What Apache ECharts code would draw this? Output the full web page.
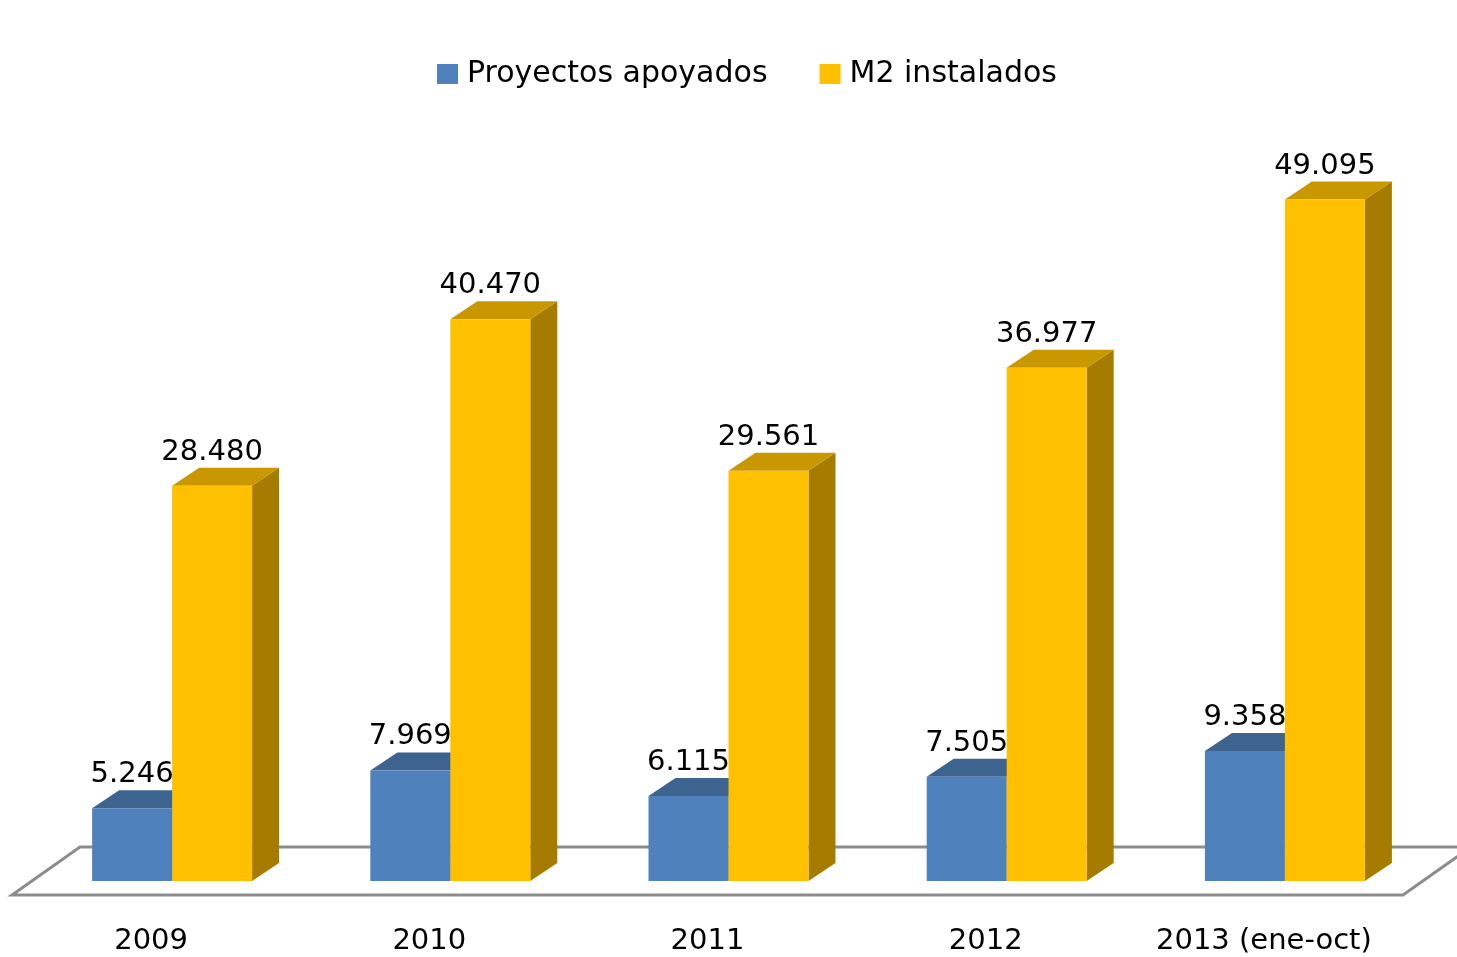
<!DOCTYPE html>
<html>
<head>
<meta charset="utf-8">
<script src="https://cdn.jsdelivr.net/npm/echarts@6/dist/echarts.min.js"></script>
<style>html,body{margin:0;padding:0;background:#fff}#c{width:1457px;height:957px}</style>
</head>
<body>
<div id="c"></div>
<script>
const categories = ['2009', '2010', '2011', '2012', '2013 (ene-oct)'];
const seriesNames = ['Proyectos apoyados', 'M2 instalados'];
const proyectos = [5246, 7969, 6115, 7505, 9358];
const m2 = [28480, 40470, 29561, 36977, 49095];

const FONT = '"DejaVu Sans"';
const FS = 29;
const DX = 27, DY = -18;
const palettes = [
  { front: '#4F81BD', top: '#3D638F', side: '#345580' },
  { front: '#FFC000', top: '#C99700', side: '#A57C00' }
];

function fmt(v) {
  return String(v).replace(/\B(?=(\d{3})+(?!\d))/g, '.');
}

function barRenderer(sIdx) {
  return function (params, api) {
    const ci = api.value(0);
    const v = api.value(1);
    const top = api.coord([ci, v]);
    const base = api.coord([ci, 0]);
    const band = api.size([1, 0])[0];
    const w = band * 0.2875;
    const x0 = sIdx === 0 ? top[0] - w : top[0];
    const x1 = x0 + w;
    const yT = top[1], yB = base[1];
    const p = palettes[sIdx];
    return {
      type: 'group',
      children: [
        { type: 'polygon', shape: { points: [[x1, yT], [x1 + DX, yT + DY], [x1 + DX, yB + DY], [x1, yB]] }, style: { fill: p.side } },
        { type: 'polygon', shape: { points: [[x0, yT], [x0 + DX, yT + DY], [x1 + DX, yT + DY], [x1, yT]] }, style: { fill: p.top } },
        { type: 'rect', shape: { x: x0, y: yT, width: w, height: yB - yT }, style: { fill: p.front } },
        { type: 'text', z2: 100, style: { text: fmt(v), x: (x0 + x1) / 2, y: yT + DY - 1, fill: '#000', font: FS + 'px ' + FONT, align: 'center', verticalAlign: 'bottom', textAlign: 'center', textVerticalAlign: 'bottom' } }
      ]
    };
  };
}

const chart = echarts.init(document.getElementById('c'), null, { renderer: 'canvas' });
chart.setOption({
  animation: false,
  backgroundColor: '#fff',
  textStyle: { fontFamily: FONT },
  legend: {
    data: seriesNames,
    top: 54,
    left: 432,
    icon: 'rect',
    itemWidth: 21,
    itemHeight: 20,
    itemGap: 52,
    textStyle: { fontSize: 30, color: '#000', fontFamily: FONT, padding: [0, 0, 0, 4] }
  },
  grid: { left: 33, right: 33, top: 187, bottom: 76 },
  xAxis: {
    type: 'category',
    data: categories,
    axisLine: { show: false },
    axisTick: { show: false },
    axisLabel: {
      margin: 46,
      interval: 0,
      formatter: function (v) { return '{a|' + v + '}'; },
      rich: { a: { fontSize: FS, fontFamily: FONT, color: '#000', padding: [0, 42, 0, 0] } }
    }
  },
  yAxis: { type: 'value', min: 0, max: 50000, show: false, splitLine: { show: false } },
  series: [
    {
      type: 'custom', name: 'floor', silent: true, z: 1,
      data: [[0, 0]],
      encode: { x: 0, y: 1 },
      renderItem: function (params, api) {
        const cs = params.coordSys;
        const b = cs.y + cs.height;
        return {
          type: 'polygon',
          shape: { points: [[cs.x - 21, b + 14], [cs.x + cs.width - 21, b + 14], [cs.x + cs.width + 47, b - 34], [cs.x + 47, b - 34]] },
          style: { fill: 'none', stroke: '#8C8C8C', lineWidth: 3 }
        };
      }
    },
    {
      type: 'custom', name: seriesNames[0], z: 2,
      itemStyle: { color: palettes[0].front },
      data: proyectos.map((v, i) => [i, v]),
      encode: { x: 0, y: 1 },
      renderItem: barRenderer(0)
    },
    {
      type: 'custom', name: seriesNames[1], z: 3,
      itemStyle: { color: palettes[1].front },
      data: m2.map((v, i) => [i, v]),
      encode: { x: 0, y: 1 },
      renderItem: barRenderer(1)
    }
  ]
});
</script>
</body>
</html>
